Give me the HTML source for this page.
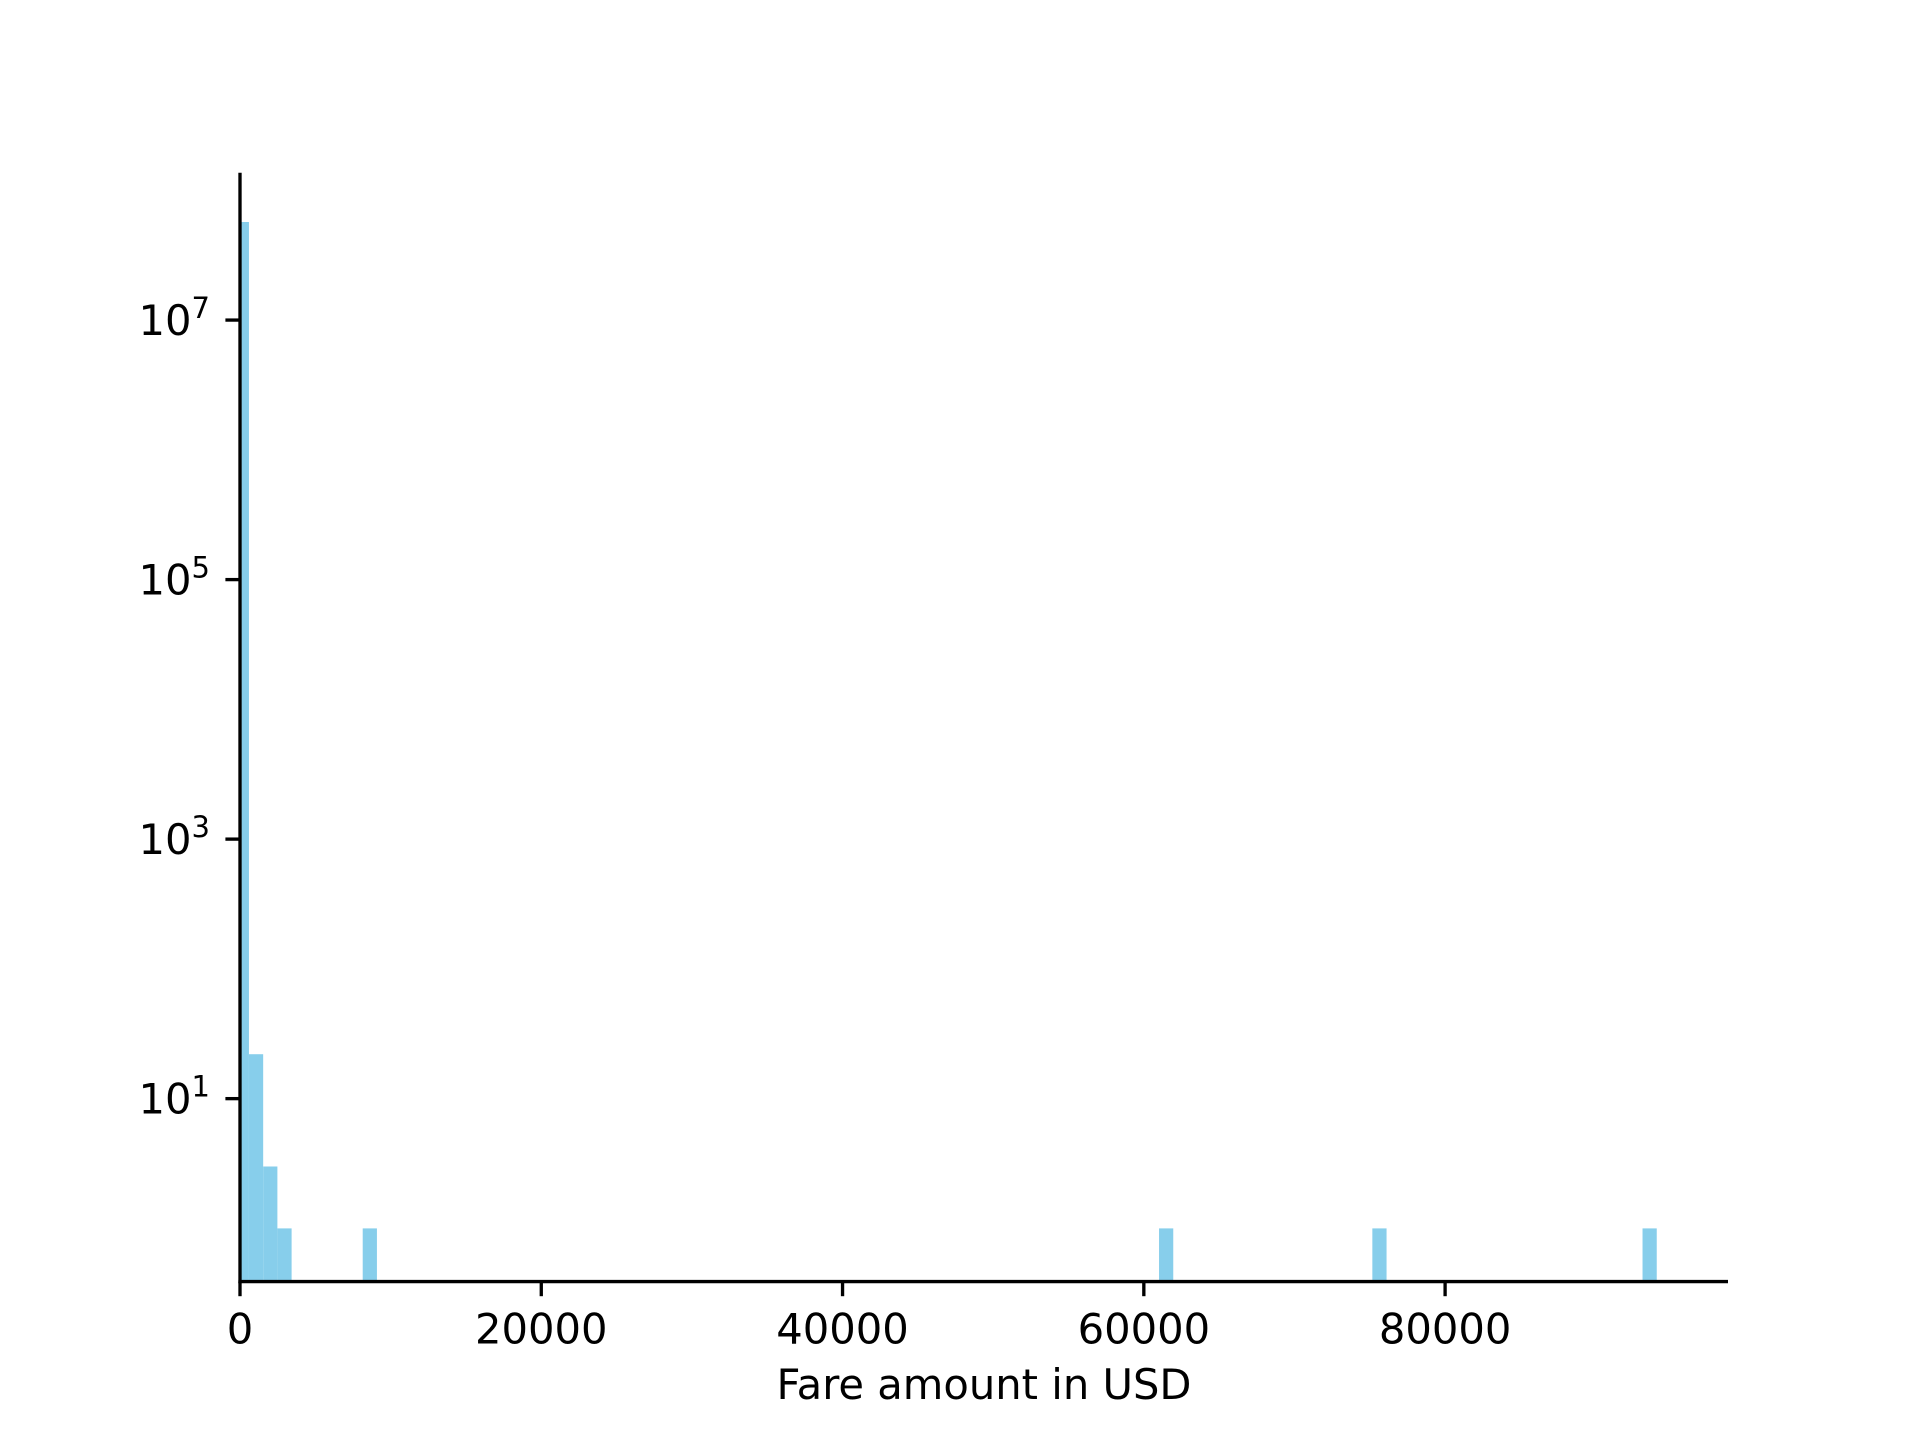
<!DOCTYPE html>
<html><head><meta charset="utf-8"><style>
html,body{margin:0;padding:0;background:#fff;}
svg{display:block;font-family:"DejaVu Sans","Liberation Sans",sans-serif;}
</style></head><body>
<svg id="chart" width="1920" height="1440" viewBox="0 0 1920 1440" xmlns="http://www.w3.org/2000/svg">
<rect width="1920" height="1440" fill="#fff"/>
<g id="bars"></g>
<g id="axes"></g>
</svg>
<script>
const binStart = -350;
const binWidth = 944;
const binIndices = [0, 1, 2, 3, 9, 65, 80, 99];
const binCounts = [57000000, 22, 3, 1, 1, 1, 1, 1];
const xTicks = [0, 20000, 40000, 60000, 80000];
const xTickLabels = ["0", "20000", "40000", "60000", "80000"];
const yTickExps = [1, 3, 5, 7];

const L=240,R=1728,T=172.8,B=1281.6;
const xMin=0,xMax=98780,logLo=-0.41,logHi=8.135;
const sx=v=>L+(v-xMin)/(xMax-xMin)*(R-L);
const sy=v=>B-(Math.log10(v)-logLo)/(logHi-logLo)*(B-T);
const NS="http://www.w3.org/2000/svg";
function mk(tag,attrs,parent){const e=document.createElementNS(NS,tag);for(const k in attrs)e.setAttribute(k,attrs[k]);parent.appendChild(e);return e;}
const bars=document.getElementById('bars'),axes=document.getElementById('axes');
binIndices.forEach((bi,i)=>{
  const x0=Math.max(sx(binStart+bi*binWidth),L),x1=sx(binStart+(bi+1)*binWidth);
  const y=sy(binCounts[i]);
  const r=mk('rect',{x:x0,y:y,width:x1-x0,height:B-y,fill:'#87CEEB'},bars);
  
  
});
const sl=mk('line',{x1:L,y1:T,x2:L,y2:B+1.6,stroke:'#000','stroke-width':3.33},axes);


const sb=mk('line',{x1:L-1.6,y1:B,x2:R,y2:B,stroke:'#000','stroke-width':3.33},axes);


xTicks.forEach((v,i)=>{
  const x=sx(v);
  mk('line',{x1:x,y1:B,x2:x,y2:B+14.6,stroke:'#000','stroke-width':3.33},axes);
  const t=mk('text',{x:x,y:B+62,'text-anchor':'middle','font-size':41.67,fill:'#000'},axes);
  t.textContent=xTickLabels[i];
  
  
});
yTickExps.forEach(e=>{
  const y=sy(Math.pow(10,e));
  mk('line',{x1:L,y1:y,x2:L-14.6,y2:y,stroke:'#000','stroke-width':3.33},axes);
  const t=mk('text',{x:L-30,y:y+15,'text-anchor':'end','font-size':41.67,fill:'#000'},axes);
  
  
  const a=mk('tspan',{},t);a.textContent='10';
  const b=mk('tspan',{dy:-17,'font-size':29},t);b.textContent=String(e);
});
const xl=mk('text',{x:(L+R)/2,y:1399,'text-anchor':'middle','font-size':41.67,fill:'#000'},axes);
xl.textContent='Fare amount in USD';


</script>
</body></html>
